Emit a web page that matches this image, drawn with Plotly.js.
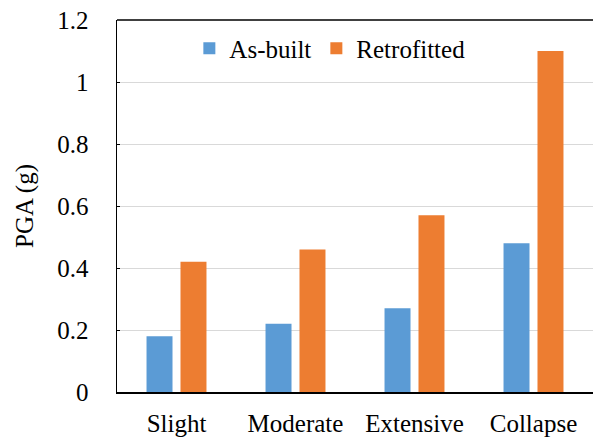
<!DOCTYPE html>
<html><head><meta charset="utf-8">
<script src="https://cdn.plot.ly/plotly-3.0.1.min.js"></script>
<style>body{margin:0;padding:0;background:#fff}#chart{width:593px;height:441px}</style>
</head><body><div id="chart"></div>
<script>
const categories = ["Slight", "Moderate", "Extensive", "Collapse"];
const asBuilt = [0.18, 0.22, 0.27, 0.48];
const retrofitted = [0.42, 0.46, 0.57, 1.10];
const yTicks = [0, 0.2, 0.4, 0.6, 0.8, 1, 1.2];
const yTickText = ["0", "0.2", "0.4", "0.6", "0.8", "1", "1.2"];

const font = {family: "Liberation Serif", size: 25, color: "#000"};
const data = [
  {type: "bar", name: "As-built", x: categories, y: asBuilt, marker: {color: "#5b9bd5"}},
  {type: "bar", name: "Retrofitted", x: categories, y: retrofitted, marker: {color: "#ed7d31"}}
];
const layout = {
  width: 593, height: 441,
  margin: {l: 117, r: 0, t: 20, b: 49, pad: 0},
  paper_bgcolor: "#fff", plot_bgcolor: "#fff",
  font: font,
  barmode: "group", bargap: 0.429, bargroupgap: 0.235,
  showlegend: true,
  legend: {orientation: "h", x: 0.152, y: 0.985, xanchor: "left", yanchor: "top", font: font, bgcolor: "rgba(0,0,0,0)", itemwidth: 30, tracegroupgap: 0},
  xaxis: {showline: true, linecolor: "#000", linewidth: 2, ticks: "", tickfont: font, ticklabelstandoff: 8, showgrid: false, zeroline: false},
  yaxis: {range: [0, 1.2], tickvals: yTicks, ticktext: yTickText, showline: true, linecolor: "#000", linewidth: 1.5,
          ticks: "inside", ticklen: 3, tickcolor: "#000", tickfont: font, ticklabelstandoff: 22,
          showgrid: true, gridcolor: "#d9d9d9", gridwidth: 1, zeroline: false,
          title: {text: "PGA (g)", font: font, standoff: 16}},
  shapes: [{type: "line", xref: "paper", yref: "paper", x0: 0, x1: 1, y0: 1, y1: 1, line: {color: "#000", width: 1.5}}]
};
Plotly.newPlot("chart", data, layout, {displayModeBar: false, staticPlot: true});
</script></body></html>
